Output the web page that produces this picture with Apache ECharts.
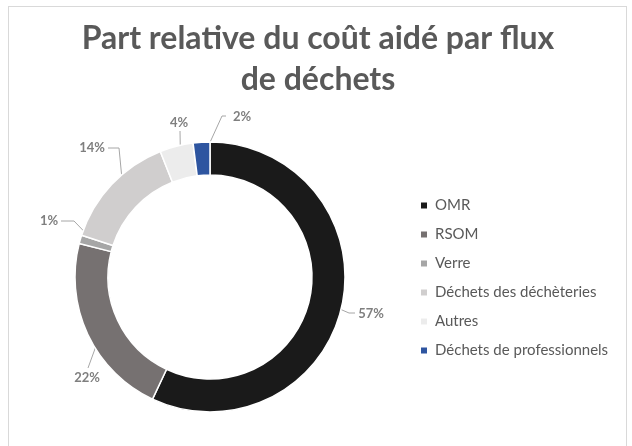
<!DOCTYPE html>
<html>
<head>
<meta charset="utf-8">
<script src="https://cdn.jsdelivr.net/npm/echarts@6/dist/echarts.min.js"></script>
<style>
  html, body { margin: 0; padding: 0; background: #fff; }
  #frame { position: absolute; left: 8px; top: 6px; width: 619px; height: 445px; border: 1px solid #d9d9d9; box-sizing: border-box; }
  #chart { width: 632px; height: 446px; }
</style>
</head>
<body>
<div id="frame"></div>
<div id="chart"></div>
<script>
// Share of subsidised cost by waste stream (%)
const categories = ['OMR', 'RSOM', 'Verre', 'Déchets des déchèteries', 'Autres', 'Déchets de professionnels'];
const shares = [57, 22, 1, 14, 4, 2];
const colors = ['#1a1a1a', '#767171', '#a6a6a6', '#d0cece', '#ececec', '#2e55a0'];

// Ring geometry
const CX = 210, CY = 277, R_IN = 102, R_OUT = 135;
const R_ANCHOR = (R_IN + R_OUT) / 2;

// Label placement (label centre relative to ring centre, then leader bends)
const labelPos = [[161, 37], [-123, 101], [-161, -56], [-118, -129], [-31, -154], [32, -160]];
const leaderBends = [
  [[349, 313], [355, 313]],
  [[88, 368]],
  [[74, 221], [61, 221]],
  [[119, 148], [108, 148]],
  [[180, 131]],
  [[222, 116], [226, 116]]
];

// Mid angle of each slice (clockwise from 12 o'clock)
const total = shares.reduce((a, b) => a + b, 0);
const midAngles = [];
let acc = 0;
shares.forEach(v => { midAngles.push((acc + v / 2) / total * 2 * Math.PI); acc += v; });

const chart = echarts.init(document.getElementById('chart'), null, { renderer: 'canvas' });
chart.setOption({
  backgroundColor: 'transparent',
  animation: false,
  title: {
    text: 'Part relative du coût aidé par flux\nde déchets',
    left: 313,
    textAlign: 'center',
    top: 13,
    textStyle: { fontFamily: 'Lato', fontSize: 32, fontWeight: 'bold', color: '#595959', lineHeight: 41 }
  },
  legend: {
    orient: 'vertical',
    left: 414,
    top: 193,
    itemWidth: 8,
    itemHeight: 8,
    itemGap: 14,
    icon: 'rect',
    textStyle: { fontFamily: 'Lato', fontSize: 15, color: '#595959', padding: [0, 0, 0, 2] },
    data: categories
  },
  series: [{
    type: 'pie',
    center: [CX, CY],
    radius: [R_IN, R_OUT],
    startAngle: 90,
    clockwise: true,
    avoidLabelOverlap: false,
    itemStyle: { borderColor: '#fff', borderWidth: 1.5 },
    label: {
      show: true,
      position: 'outside',
      formatter: p => p.value + '%',
      fontFamily: 'Lato',
      fontSize: 13,
      fontWeight: 'bold',
      color: '#7f7f7f'
    },
    labelLine: { show: true, showAbove: true, lineStyle: { color: '#a6a6a6', width: 1 } },
    labelLayout: function (params) {
      const i = params.dataIndex;
      const a = midAngles[i];
      const anchor = [CX + R_ANCHOR * Math.sin(a), CY - R_ANCHOR * Math.cos(a)];
      return {
        x: CX + labelPos[i][0],
        y: CY + labelPos[i][1],
        align: 'center',
        verticalAlign: 'middle',
        labelLinePoints: [anchor].concat(leaderBends[i])
      };
    },
    data: categories.map((name, i) => ({ name, value: shares[i], itemStyle: { color: colors[i] } }))
  }]
});
</script>
</body>
</html>
